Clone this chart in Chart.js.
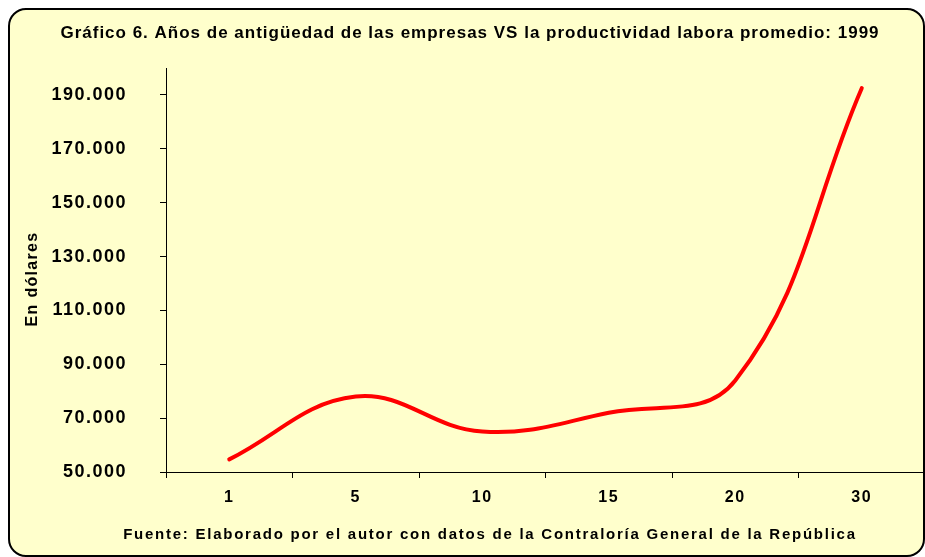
<!DOCTYPE html>
<html lang="es">
<head>
<meta charset="UTF-8">
<title>Gráfico 6</title>
<script src="https://cdn.jsdelivr.net/npm/chart.js"></script>
<style>
    body {
        margin: 0;
        background: #ffffff;
    }
    .frame {
        position: absolute;
        left: 8px;
        top: 8px;
        width: 913px;
        height: 545px;
        border: 2px solid #000;
        border-radius: 18px;
        background: #FFFFCC;
    }
    .wrap {
        position: absolute;
        left: 0;
        top: 0;
        width: 925px;
        height: 557px;
    }
</style>
</head>
<body>
<div class="frame"></div>
<div class="wrap"><canvas id="chart"></canvas></div>

<script>
// Años de antigüedad (categorías) y productividad laboral promedio
const years = ['1', '5', '10', '15', '20', '30'];
const productivity = [54700, 78000, 65000, 72000, 84000, 192500];
const yTicks = [50000, 70000, 90000, 110000, 130000, 150000, 170000, 190000];

const chartTitle = 'Gráfico 6. Años de antigüedad de las empresas VS la productividad labora promedio: 1999';
const sourceNote = 'Fuente: Elaborado por el autor con datos de la Contraloría General de la República';
const yTitle = 'En dólares';
const FONT = '"Liberation Sans", Arial, sans-serif';

// miles con punto: 190000 -> 190.000
function fmt(v) {
    return String(v).replace(/\B(?=(\d{3})+(?!\d))/g, '.');
}

// titulo, fuente y titulo del eje dibujados en posiciones fijas
const textPlugin = {
    id: 'textPlugin',
    beforeDraw(chart) {
        // el original tiene las letras algo separadas
        chart.ctx.letterSpacing = '1.5px';
    },
    afterDraw(chart) {
        const ctx = chart.ctx;
        ctx.save();
        ctx.fillStyle = '#000';
        ctx.textAlign = 'center';
        ctx.textBaseline = 'middle';
        ctx.letterSpacing = '1px';
        ctx.font = 'bold 17px ' + FONT;
        ctx.fillText(chartTitle, 470, 33);
        ctx.letterSpacing = '1.75px';
        ctx.font = 'bold 15px ' + FONT;
        ctx.fillText(sourceNote, 490, 535);
        ctx.letterSpacing = '1.3px';
        ctx.font = 'bold 16px ' + FONT;
        ctx.translate(33, 279);
        ctx.rotate(-Math.PI / 2);
        ctx.fillText(yTitle, 0, 0);
        ctx.restore();
        ctx.letterSpacing = '0px';
    }
};

const ctx = document.getElementById('chart').getContext('2d');
new Chart(ctx, {
    type: 'line',
    data: {
        labels: years,
        datasets: [{
            data: productivity,
            borderColor: '#FF0000',
            borderWidth: 4,
            borderCapStyle: 'round',
            borderJoinStyle: 'round',
            pointRadius: 0,
            tension: 0.4,
            fill: false
        }]
    },
    options: {
        responsive: true,
        maintainAspectRatio: false,
        animation: false,
        layout: { padding: { top: 68, left: 0, right: 0, bottom: 0 } },
        plugins: {
            legend: { display: false },
            title: { display: false },
            tooltip: { enabled: false }
        },
        scales: {
            x: {
                type: 'category',
                offset: true,
                afterFit: (scale) => { scale.height = 85; },
                grid: {
                    offset: true,
                    drawOnChartArea: false,
                    color: '#000',
                    tickLength: 6
                },
                border: { color: '#000', width: 1 },
                ticks: {
                    color: '#000',
                    font: { family: FONT, size: 16, weight: 'bold' },
                    padding: 10,
                    maxRotation: 0,
                    autoSkip: false
                }
            },
            y: {
                min: 50000,
                max: 200000,
                afterFit: (scale) => { scale.width = 166; },
                afterBuildTicks: (scale) => {
                    scale.ticks = yTicks.map(v => ({ value: v }));
                },
                grid: {
                    drawOnChartArea: false,
                    color: '#000',
                    tickLength: 6
                },
                border: { color: '#000', width: 1 },
                ticks: {
                    color: '#000',
                    font: { family: FONT, size: 18, weight: 'bold' },
                    padding: 33,
                    callback: (v) => fmt(v)
                }
            }
        }
    },
    plugins: [textPlugin]
});
</script>
</body>
</html>
